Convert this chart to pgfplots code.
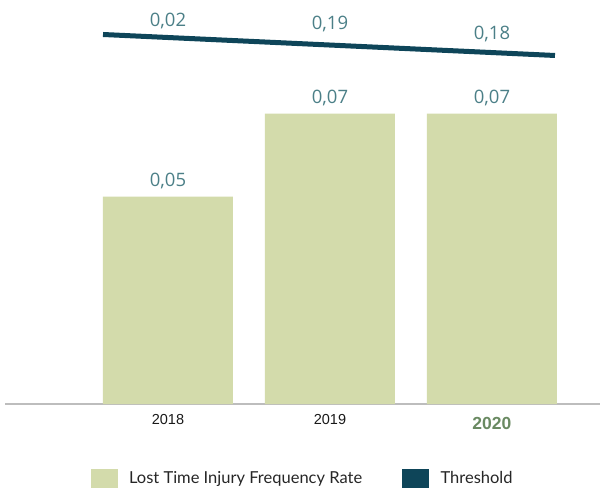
\documentclass[border=0pt]{standalone}
\usepackage{pgfplots}
\pgfplotsset{compat=1.18}
\usepackage{fontspec}
\setmainfont{Liberation Sans}
\newfontfamily\valfont{Open Sans}
\newfontfamily\legfont{Lato}

\definecolor{barc}{HTML}{D3DBAB}
\definecolor{linec}{HTML}{0E4559}
\definecolor{labc}{HTML}{4B7F87}
\definecolor{yearc}{HTML}{6A8A62}
\definecolor{axisc}{HTML}{BDBDBD}

\begin{document}
\begin{tikzpicture}
\useasboundingbox (-5pt,-86pt) rectangle (595pt,404pt);
\begin{axis}[
  at={(0pt,0pt)}, anchor=south west,
  scale only axis,
  width=595pt, height=404pt,
  xmin=-1.006, xmax=2.667,
  ymin=0, ymax=0.09735,
  axis x line*=bottom,
  hide y axis,
  axis line style={color=axisc, line width=1.5pt, -},
  xtick={0,1,2},
  xticklabels={2018,2019,{\raisebox{-5pt}{\fontsize{17.5}{20}\selectfont\bfseries\color{yearc}2020}}},
  major tick length=0pt,
  xticklabel style={anchor=base, yshift=-20pt, font=\fontsize{14.5}{17}\selectfont, text=black!90},
  clip=false,
  legend columns=2,
  legend style={at={(0.4985,-0.183)}, anchor=center, draw=none, fill=none,
    inner sep=0pt, column sep=12pt,
    nodes={inner sep=0pt, font=\legfont\fontsize{16.5}{19}\selectfont, text=black!85},
    /tikz/every even column/.append style={column sep=40pt}},
]
% bars: Lost Time Injury Frequency Rate
\addplot[ybar, bar width=130pt, fill=barc, draw=none, forget plot,
  nodes near coords, point meta=y,
  nodes near coords style={anchor=base, yshift=10.5pt, text=labc,
    font=\valfont\fontsize{18.5}{22}\selectfont,
    /pgf/number format/.cd, fixed, fixed zerofill, precision=2, use comma, assume math mode=true}]
  table {
x y
0 0.05
1 0.07
2 0.07
};
% threshold line
\addplot[color=linec, line width=5pt, forget plot] table {
x y
-0.401 0.08904
2.389 0.08398
};
% threshold labels
\addplot[draw=none, mark=none, forget plot,
  nodes near coords, point meta=explicit symbolic,
  nodes near coords style={anchor=base, text=labc, font=\valfont\fontsize{18.5}{22}\selectfont}]
  table[meta=lab] {
x y lab
0 0.09108 0,02
1 0.09036 0,19
2 0.08795 0,18
};
\addlegendimage{legend image code/.code={\fill[barc] (0pt,-9pt) rectangle (26pt,9pt);}}
\addlegendentry{Lost Time Injury Frequency Rate}
\addlegendimage{legend image code/.code={\fill[linec] (0pt,-9pt) rectangle (26pt,9pt);}}
\addlegendentry{Threshold}
\end{axis}
\end{tikzpicture}
\end{document}
